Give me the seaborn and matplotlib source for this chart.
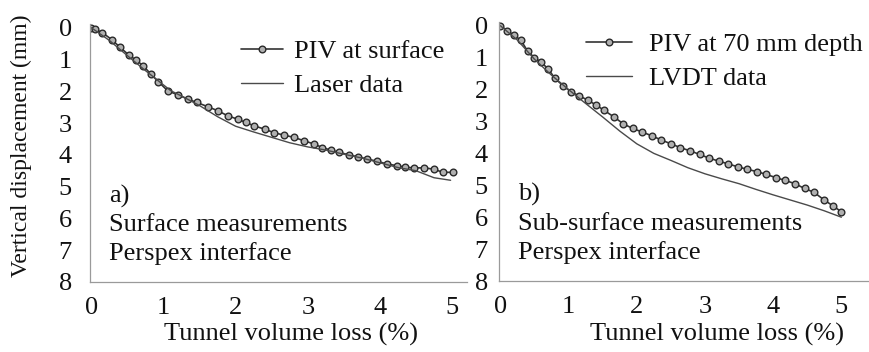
import matplotlib
matplotlib.use("Agg")
import matplotlib.pyplot as plt
import seaborn as sns
import pandas as pd

# ---- data ----
piv_a_x = [0.00, 0.05, 0.15, 0.28, 0.40, 0.52, 0.62, 0.72, 0.82, 0.93, 1.06, 1.20, 1.34, 1.46,
           1.62, 1.75, 1.89, 2.03, 2.14, 2.26, 2.40, 2.53, 2.67, 2.81, 2.95, 3.09, 3.20, 3.32,
           3.43, 3.57, 3.69, 3.82, 3.96, 4.10, 4.24, 4.35, 4.47, 4.61, 4.75, 4.87, 5.01]
piv_a_y = [0.00, 0.05, 0.15, 0.37, 0.62, 0.86, 1.02, 1.20, 1.45, 1.70, 1.99, 2.11, 2.25, 2.35,
           2.49, 2.61, 2.77, 2.88, 2.98, 3.09, 3.19, 3.30, 3.38, 3.45, 3.56, 3.66, 3.77, 3.85,
           3.92, 4.00, 4.06, 4.13, 4.20, 4.29, 4.34, 4.39, 4.41, 4.41, 4.45, 4.55, 4.55]
laser_x = [0.0, 0.25, 0.5, 0.75, 1.0, 1.1, 1.25, 1.5, 1.75, 2.0, 2.25, 2.5, 2.75, 3.0,
           3.25, 3.5, 3.75, 4.0, 4.25, 4.5, 4.75, 4.98]
laser_y = [0.0, 0.40, 0.88, 1.35, 1.80, 1.98, 2.15, 2.45, 2.80, 3.10, 3.28, 3.45, 3.62, 3.75,
           3.85, 3.98, 4.10, 4.25, 4.40, 4.50, 4.72, 4.80]

piv_b_x = [0.0, 0.1, 0.2, 0.3, 0.4, 0.5, 0.6, 0.7, 0.8, 0.92, 1.04, 1.16, 1.28, 1.4, 1.52,
           1.66, 1.8, 1.94, 2.08, 2.22, 2.36, 2.5, 2.64, 2.78, 2.92, 3.06, 3.2, 3.34, 3.48,
           3.62, 3.76, 3.9, 4.04, 4.18, 4.32, 4.46, 4.6, 4.74, 4.88, 5.0]
piv_b_y = [0.0, 0.15, 0.30, 0.45, 0.80, 1.00, 1.15, 1.35, 1.65, 1.88, 2.08, 2.20, 2.33, 2.48,
           2.65, 2.85, 3.07, 3.22, 3.33, 3.45, 3.58, 3.70, 3.82, 3.92, 4.03, 4.15, 4.24, 4.33,
           4.42, 4.50, 4.57, 4.66, 4.76, 4.85, 4.95, 5.10, 5.22, 5.45, 5.65, 5.83]
lvdt_x = [0.0, 0.25, 0.5, 0.75, 1.0, 1.2, 1.5, 1.75, 2.0, 2.25, 2.5, 2.75, 3.0, 3.25, 3.5,
          3.75, 4.0, 4.25, 4.5, 4.75, 5.0]
lvdt_y = [0.0, 0.45, 1.05, 1.55, 2.00, 2.35, 2.86, 3.30, 3.70, 4.00, 4.22, 4.45, 4.64, 4.80,
          4.95, 5.13, 5.30, 5.46, 5.62, 5.80, 6.00]

xticks = [0, 1, 2, 3, 4, 5]
yticks = [0, 1, 2, 3, 4, 5, 6, 7, 8]

sns.set_style("white")
plt.rcParams["font.family"] = ["Liberation Serif", "DejaVu Serif"]

fig = plt.figure(figsize=(8.7, 3.52), dpi=100)
ax1 = fig.add_axes([0.1034, 0.199, 0.4336, 0.733])
ax2 = fig.add_axes([0.5736, 0.2017, 0.4264, 0.736])

LINE_C = "#333333"
THIN_C = "#4a4a4a"
TXT_C = "#111111"
FS = 19

def draw(ax, px, py, plabel, lx, ly, llabel, xlim, texts, leg_anchor, hl, htp, ypad, xlab_x):
    d1 = pd.DataFrame({"x": px, "y": py})
    d2 = pd.DataFrame({"x": lx, "y": ly})
    sns.lineplot(data=d1, x="x", y="y", ax=ax, sort=False, estimator=None,
                 color=LINE_C, lw=1.2, marker="o", markersize=4.8,
                 markerfacecolor="#b0b0b0", markeredgecolor="#2a2a2a",
                 markeredgewidth=1.0, label=plabel)
    sns.lineplot(data=d2, x="x", y="y", ax=ax, sort=False, estimator=None,
                 color=THIN_C, lw=1.0, label=llabel)
    ax.set_xlim(*xlim)
    ax.set_ylim(8, -0.12)
    ax.set_xticks(xticks)
    ax.set_yticks(yticks)
    ax.tick_params(axis="x", direction="inout", length=5, width=0.8, color="#999999",
                   labelsize=FS, pad=8, labelcolor=TXT_C)
    ax.tick_params(axis="y", direction="out", length=4, width=0.8, color="#999999",
                   labelsize=FS, pad=ypad, labelcolor=TXT_C)
    for s in ["top", "right"]:
        ax.spines[s].set_visible(False)
    for s in ["left", "bottom"]:
        ax.spines[s].set_color("#9a9a9a")
        ax.spines[s].set_linewidth(0.9)
    ax.set_xlabel("Tunnel volume loss (%)", fontsize=FS, color=TXT_C, va="center")
    ax.xaxis.set_label_coords(xlab_x, -0.205)
    ax.set_ylabel("")
    for (tx, ty, s) in texts:
        ax.text(tx, ty, s, fontsize=FS, color=TXT_C, ha="left", va="center")
    ax.legend(loc="upper left", bbox_to_anchor=leg_anchor, frameon=False, fontsize=FS,
              borderpad=0, borderaxespad=0, handlelength=hl, handletextpad=htp,
              labelspacing=0.4, labelcolor=TXT_C)

draw(ax1, piv_a_x, piv_a_y, "PIV at surface", laser_x, laser_y, "Laser data",
     (-0.02, 5.21),
     [(0.25, 5.3, "a)"), (0.25, 6.2, "Surface measurements"), (0.25, 7.1, "Perspex interface")],
     (0.40, 0.94), 1.6, 0.4, 9, 0.533)
draw(ax2, piv_b_x, piv_b_y, "PIV at 70 mm depth", lvdt_x, lvdt_y, "LVDT data",
     (-0.02, 5.42),
     [(0.26, 5.3, "b)"), (0.26, 6.2, "Sub-surface measurements"), (0.26, 7.1, "Perspex interface")],
     (0.234, 0.96), 1.75, 0.65, 4, 0.588)

fig.text(0.025, 0.585, "Vertical displacement (mm)", rotation=90, fontsize=17,
         color=TXT_C, ha="center", va="center")

fig.savefig("out.png", dpi=100)
